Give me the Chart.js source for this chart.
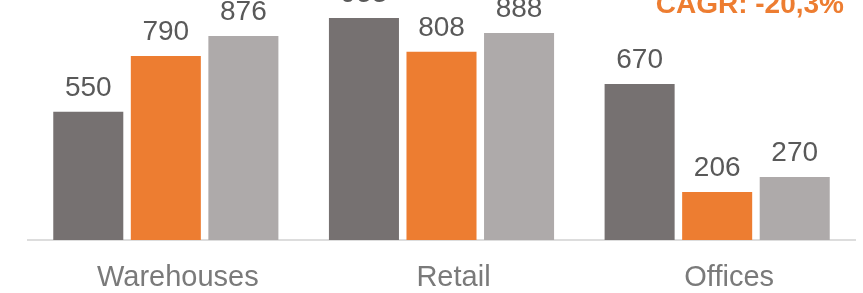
<!DOCTYPE html>
<html>
<head>
<meta charset="utf-8">
<script src="https://cdn.jsdelivr.net/npm/chart.js@4/dist/chart.umd.min.js"></script>
<style>
  html, body { margin: 0; padding: 0; background: #fff; }
  #wrap { width: 863px; height: 293px; position: relative; }
</style>
</head>
<body>
<div id="wrap"><canvas id="c" width="863" height="293"></canvas></div>
<script>
const categories = ["Warehouses", "Retail", "Offices"];
const seriesA = [550, 953, 670];
const seriesB = [790, 808, 206];
const seriesC = [876, 888, 270];
const cagrText = "CAGR: -20,3%";

const colors = ["#767171", "#ED7D31", "#AEAAAA"];

const valueLabels = {
  id: "valueLabels",
  afterDatasetsDraw(chart) {
    const ctx = chart.ctx;
    ctx.save();
    ctx.font = "28px 'Liberation Sans', Arial, sans-serif";
    ctx.fillStyle = "#595959";
    ctx.textAlign = "center";
    ctx.textBaseline = "alphabetic";
    chart.data.datasets.forEach((ds, i) => {
      const meta = chart.getDatasetMeta(i);
      meta.data.forEach((bar, j) => {
        ctx.fillText(String(ds.data[j]), bar.x, bar.y - 16);
      });
    });
    ctx.font = "bold 28px 'Liberation Sans', Arial, sans-serif";
    ctx.fillStyle = "#ED7D31";
    ctx.textAlign = "right";
    ctx.fillText(cagrText, 844, 13);
    ctx.restore();
  }
};

new Chart(document.getElementById("c"), {
  type: "bar",
  data: {
    labels: categories,
    datasets: [
      { data: seriesA, backgroundColor: colors[0] },
      { data: seriesB, backgroundColor: colors[1] },
      { data: seriesC, backgroundColor: colors[2] }
    ]
  },
  options: {
    responsive: false,
    animation: false,
    devicePixelRatio: 1,
    layout: { padding: { left: 28, right: 8, top: 0, bottom: 0 } },
    plugins: { legend: { display: false }, tooltip: { enabled: false } },
    datasets: { bar: { categoryPercentage: 0.844, barPercentage: 0.903 } },
    scales: {
      x: {
        grid: { display: false, drawTicks: false },
        border: { display: true, color: "#DDDDDD", width: 2 },
        ticks: {
          color: "#7A7A7A",
          font: { family: "'Liberation Sans', Arial, sans-serif", size: 29 },
          padding: 21,
          labelOffset: 12,
          maxRotation: 0
        },
        afterFit(scale) { scale.height = 53; }
      },
      y: {
        display: false,
        min: 0,
        max: 1030
      }
    }
  },
  plugins: [valueLabels]
});
</script>
</body>
</html>
